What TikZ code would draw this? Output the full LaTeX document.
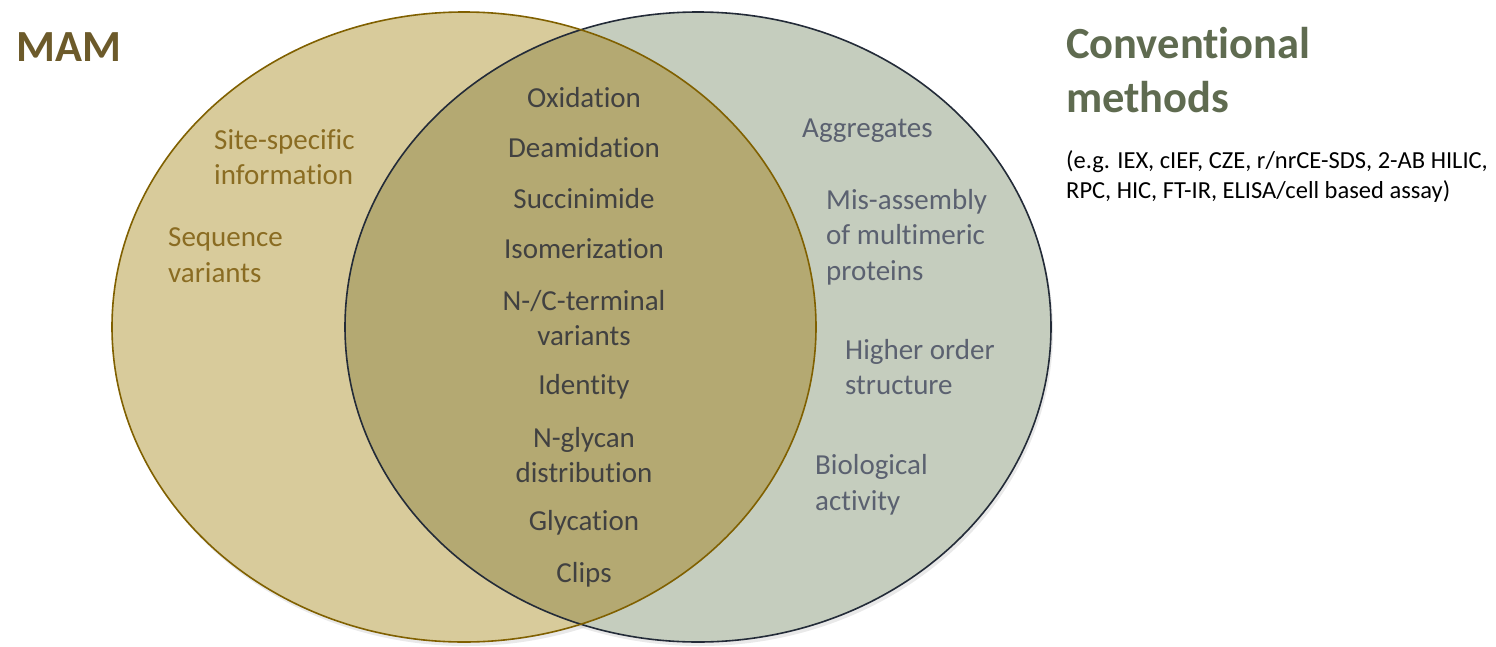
\documentclass[tikz,border=0pt]{standalone}
\usepackage{fontspec}
\setmainfont{Carlito}[Ligatures={NoCommon}]
\definecolor{mamfill}{HTML}{D8CB9B}
\definecolor{mamline}{HTML}{806000}
\definecolor{convfill}{HTML}{C5CDBE}
\definecolor{convline}{HTML}{232B38}
\definecolor{bothfill}{HTML}{B4A972}
\definecolor{mamtext}{HTML}{8A6C22}
\definecolor{midtext}{HTML}{414141}
\definecolor{convtext}{HTML}{5B6170}
\definecolor{mamtitle}{HTML}{6C5A2A}
\definecolor{convtitle}{HTML}{5F6B50}
\tikzset{
  body/.style={inner sep=0pt, font=\fontsize{29}{35.5}\selectfont},
  lefttxt/.style={body, text=mamtext, anchor=west, align=left},
  midtxt/.style={body, text=midtext, anchor=center, align=center},
  righttxt/.style={body, text=convtext, anchor=west, align=left},
  titletxt/.style={inner sep=0pt, anchor=west, align=left, font=\fontsize{44.5}{54}\selectfont\bfseries},
  notetxt/.style={inner sep=0pt, anchor=west, align=left, text=black, font=\fontsize{24.5}{30}\selectfont}
}
\begin{document}
\begin{tikzpicture}[x=1pt,y=-1pt]
\useasboundingbox (0,0) rectangle (1496,646);
% soft shadows
\fill[black!25, opacity=0.35] (466,331) ellipse [x radius=352, y radius=315];
\fill[black!25, opacity=0.35] (700,331) ellipse [x radius=353, y radius=315];
% fills
\fill[convfill] (698,327) ellipse [x radius=353, y radius=315];
\fill[mamfill] (464,327) ellipse [x radius=352, y radius=315];
\begin{scope}
  \clip (698,327) ellipse [x radius=353, y radius=315];
  \fill[bothfill] (464,327) ellipse [x radius=352, y radius=315];
\end{scope}
% borders
\draw[convline, line width=1.6pt] (698,327) ellipse [x radius=353, y radius=315];
\draw[mamline, line width=1.6pt] (464,327) ellipse [x radius=352, y radius=315];

% titles
\node[titletxt, text=mamtitle] (mam) at (16,47) {MAM};
\node[titletxt, text=convtitle] (conv) at (1066,70) {Conventional\\methods};
\node[notetxt] (note) at (1066,177) {(e.g. IEX, cIEF, CZE, r/nrCE-SDS, 2-AB HILIC,\\RPC, HIC, FT-IR, ELISA/cell based assay)};

% MAM only
\node[lefttxt] (site) at (214,157) {Site-specific\\information};
\node[lefttxt] (seq) at (168,255) {Sequence\\variants};

% both
\node[midtxt] (ox) at (584,98) {Oxidation};
\node[midtxt] (deam) at (584,148) {Deamidation};
\node[midtxt] (succ) at (584,199) {Succinimide};
\node[midtxt] (iso) at (584,249) {Isomerization};
\node[midtxt] (term) at (584,318) {N-/C-terminal\\variants};
\node[midtxt] (ident) at (584,387) {Identity};
\node[midtxt] (glycan) at (584,455) {N-glycan\\distribution};
\node[midtxt] (glyc) at (584,523) {Glycation};
\node[midtxt] (clips) at (584,575) {Clips};

% conventional only
\node[righttxt] (agg) at (802,131) {Aggregates};
\node[righttxt] (mis) at (826,237) {Mis-assembly\\of multimeric\\proteins};
\node[righttxt] (hos) at (845,367) {Higher order\\structure};
\node[righttxt] (bio) at (815,485) {Biological\\activity};
\end{tikzpicture}
\end{document}
